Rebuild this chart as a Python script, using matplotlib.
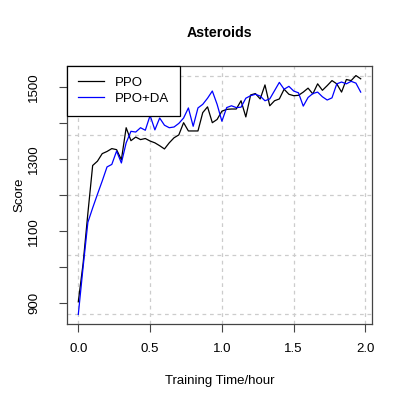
import numpy as np
import matplotlib
matplotlib.use("Agg")
import matplotlib.pyplot as plt

# training time in hours (one evaluation every 2 minutes)
hours = np.arange(60) / 30.0

ppo = [904, 1010, 1150, 1283, 1295, 1316, 1322, 1330, 1327, 1299,
       1388, 1352, 1362, 1355, 1358, 1351, 1346, 1338, 1329, 1346,
       1360, 1368, 1402, 1379, 1379, 1379, 1430, 1446, 1402, 1411,
       1434, 1439, 1440, 1440, 1463, 1418, 1479, 1483, 1468, 1507,
       1449, 1463, 1468, 1495, 1481, 1477, 1478, 1487, 1498, 1482,
       1510, 1492, 1505, 1519, 1510, 1487, 1522, 1519, 1533, 1524]

ppo_da = [869, 1000, 1125, 1165, 1203, 1240, 1279, 1286, 1323, 1290,
          1346, 1378, 1376, 1388, 1381, 1422, 1382, 1415, 1395, 1388,
          1390, 1400, 1415, 1443, 1392, 1443, 1453, 1470, 1490, 1453,
          1406, 1444, 1449, 1444, 1445, 1470, 1477, 1481, 1476, 1463,
          1468, 1491, 1514, 1495, 1503, 1490, 1485, 1448, 1472, 1483,
          1487, 1474, 1465, 1471, 1510, 1515, 1510, 1517, 1512, 1487]

x_ticks = [0.0, 0.5, 1.0, 1.5, 2.0]
x_labels = ["0.0", "0.5", "1.0", "1.5", "2.0"]
y_ticks = [900, 1000, 1100, 1200, 1300, 1400, 1500]
y_labels = ["900", "", "1100", "", "1300", "", "1500"]

plt.rcParams['font.family'] = ['Liberation Sans', 'DejaVu Sans']
fs = 9.5

W = 407
fig = plt.figure(figsize=(W/100, W/100), dpi=100)
ax = fig.add_axes([67/W, 1 - 324/W, (372-67)/W, (324-66)/W])

# grid: verticals at the x ticks, horizontals spread over the data range
all_y = np.concatenate([ppo, ppo_da])
for gx in x_ticks:
    ax.axvline(gx, color='#cccccc', lw=0.9, ls=(0, (3, 3)), zorder=0)
for gy in np.linspace(all_y.min(), all_y.max(), 5):
    ax.axhline(gy, color='#cccccc', lw=0.9, ls=(0, (3, 3)), zorder=0)

ax.plot(hours, ppo, color='black', lw=0.9, label='PPO')
ax.plot(hours, ppo_da, color='blue', lw=0.9, label='PPO+DA')

xr = hours.max() - hours.min()
ax.set_xlim(hours.min() - 0.04*xr, hours.max() + 0.04*xr)
yr = all_y.max() - all_y.min()
ax.set_ylim(all_y.min() - 0.04*yr, all_y.max() + 0.04*yr)

ax.set_xticks(x_ticks)
ax.set_xticklabels(x_labels, fontsize=fs)
ax.set_yticks(y_ticks)
ax.set_yticklabels(y_labels, fontsize=fs, rotation=90, va='center')
ax.tick_params(direction='out', length=6, width=0.8, color='#444444')
ax.tick_params(axis='x', pad=7.5)
ax.tick_params(axis='y', pad=13.5)

for sp in ax.spines.values():
    sp.set_color('#444444')
    sp.set_linewidth(0.9)

fig.text(219.5/W, 1 - 33/W, "Asteroids", fontsize=10.3, fontweight='bold',
         ha='center', va='center')
fig.text(219.5/W, 1 - 381/W, "Training Time/hour", fontsize=fs,
         ha='center', va='center')
fig.text(19/W, 1 - 195/W, "Score", fontsize=fs, rotation=90,
         ha='center', va='center')

leg = ax.legend(loc='upper left', bbox_to_anchor=(0, 1), borderaxespad=0,
                fancybox=False, edgecolor='black', framealpha=1, fontsize=fs,
                handlelength=2.0, handletextpad=0.85, borderpad=0.8,
                labelspacing=0.3)
leg.get_frame().set_linewidth(0.9)

fig.savefig("out.png", dpi=100)
